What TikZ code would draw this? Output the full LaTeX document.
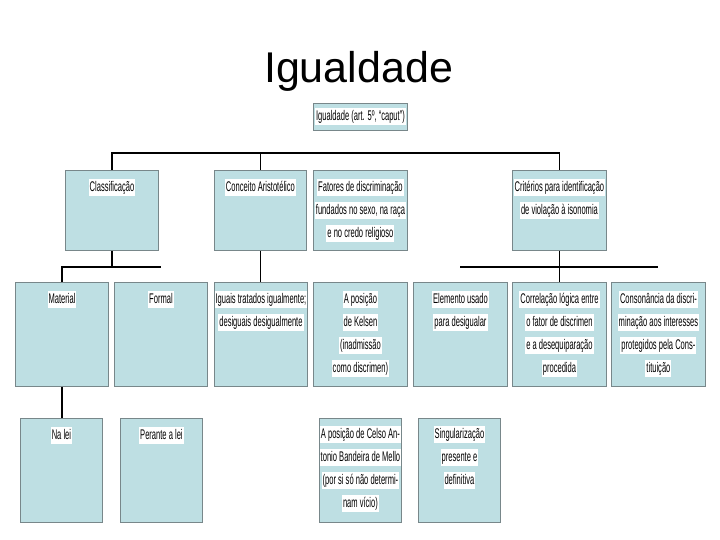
\documentclass[tikz,border=0pt]{standalone}
\usepackage{fontspec}
\setmainfont{Liberation Sans}
\newfontfamily\nar[FakeStretch=0.54]{Liberation Sans}
\definecolor{boxblue}{RGB}{190,223,227}
\definecolor{boxedge}{RGB}{120,135,138}
\newcommand\hl[1]{{\setlength\fboxsep{1pt}\colorbox{white}{\rule[-4pt]{0pt}{15pt}#1}}}
\tikzset{
  box/.style={draw=boxedge, fill=boxblue, line width=0.9pt, inner sep=0pt, anchor=north west},
  rowa/.style={box, minimum width=93, minimum height=80},
  rowb/.style={box, minimum width=93, minimum height=104},
  rowc/.style={box, minimum width=82, minimum height=104},
  txt/.style={inner sep=0pt, align=center, anchor=north, font=\nar\fontsize{14}{23}\selectfont},
  conn/.style={line width=1.8pt, black}
}
\begin{document}
\begin{tikzpicture}[x=1pt,y=-1pt]
\useasboundingbox (0,0) rectangle (720,540);
\node[anchor=base, font=\fontsize{43}{50}\selectfont] (title) at (358.5,83) {Igualdade};

% top
\node[box, minimum width=94, minimum height=27] (top) at (313,103) {};
\node[txt, anchor=center] (top-t) at (top.center) {\hl{Igualdade (art. 5º, “caput”)}};

% row 2
\node[rowa] (cls) at (65,170) {};
\node[rowa, minimum width=92] (con) at (214,170) {};
\node[rowa, minimum width=94] (fat) at (313,170) {};
\node[rowa, minimum width=94] (cri) at (512,170) {};
\node[txt] (cls-t) at ([yshift=-9pt]cls.north) {\hl{Classificação}};
\node[txt] (con-t) at ([yshift=-9pt]con.north) {\hl{Conceito Aristotélico}};
\node[txt] (fat-t) at ([yshift=-9pt]fat.north) {\hl{Fatores de discriminação}\\\hl{fundados no sexo, na raça}\\\hl{e no credo religioso}};
\node[txt] (cri-t) at ([yshift=-9pt]cri.north) {\hl{Critérios para identificação}\\\hl{de violação à isonomia}};

% row 3
\node[rowb] (mat) at (15,282) {};
\node[rowb] (for) at (114,282) {};
\node[rowb] (igu) at (214,282) {};
\node[rowb, minimum width=94] (kel) at (313,282) {};
\node[rowb, minimum width=94] (ele) at (413,282) {};
\node[rowb, minimum width=94] (cor) at (512,282) {};
\node[rowb, minimum width=94] (cons) at (611,282) {};
\node[txt] (mat-t) at ([yshift=-9pt]mat.north) {\hl{Material}};
\node[txt] (for-t) at ([yshift=-9pt]for.north) {\hl{Formal}};
\node[txt] (igu-t) at ([yshift=-9pt]igu.north) {\hl{Iguais tratados igualmente;}\\\hl{desiguais desigualmente}};
\node[txt] (kel-t) at ([yshift=-9pt]kel.north) {\hl{A posição}\\\hl{de Kelsen}\\\hl{(inadmissão}\\\hl{como discrimen)}};
\node[txt] (ele-t) at ([yshift=-9pt]ele.north) {\hl{Elemento usado}\\\hl{para desigualar}};
\node[txt] (cor-t) at ([yshift=-9pt]cor.north) {\hl{Correlação lógica entre}\\\hl{o fator de discrimen}\\\hl{e a desequiparação}\\\hl{procedida}};
\node[txt] (cons-t) at ([yshift=-9pt]cons.north) {\hl{Consonância da discri-}\\\hl{minação aos interesses}\\\hl{protegidos pela Cons-}\\\hl{tituição}};

% row 4
\node[rowc] (nal) at (20,418) {};
\node[rowc] (per) at (120,418) {};
\node[rowc] (cel) at (319,418) {};
\node[rowc] (sin) at (418,418) {};
\node[txt] (nal-t) at ([yshift=-9pt]nal.north) {\hl{Na lei}};
\node[txt] (per-t) at ([yshift=-9pt]per.north) {\hl{Perante a lei}};
\node[txt] (cel-t) at ([yshift=-8pt]cel.north) {\hl{A posição de Celso An-}\\\hl{tonio Bandeira de Mello}\\\hl{(por si só não determi-}\\\hl{nam vício)}};
\node[txt] (sin-t) at ([yshift=-8pt]sin.north) {\hl{Singularização}\\\hl{presente e}\\\hl{definitiva}};

% connectors
\coordinate (busa) at (0,153);
\coordinate (busb) at (0,267);
\draw[conn] (cls.north) -- (cls.north |- busa) -- (cri.north |- busa) -- (cri.north);
\draw[conn] (con.north |- busa) -- (con.north);
\draw[conn] (cls.south) -- (cls.south |- busb);
\draw[conn] (mat.north) -- (mat.north |- busb) -- (for.north |- busb);
\draw[conn] (con.south) -- (con.south |- igu.north);
\draw[conn] (cri.south) -- (cri.south |- cor.north);
\draw[conn] (ele.north |- busb) -- (cons.north |- busb);
\draw[conn] (mat.south) -- (mat.south |- nal.north);
\end{tikzpicture}
\end{document}
